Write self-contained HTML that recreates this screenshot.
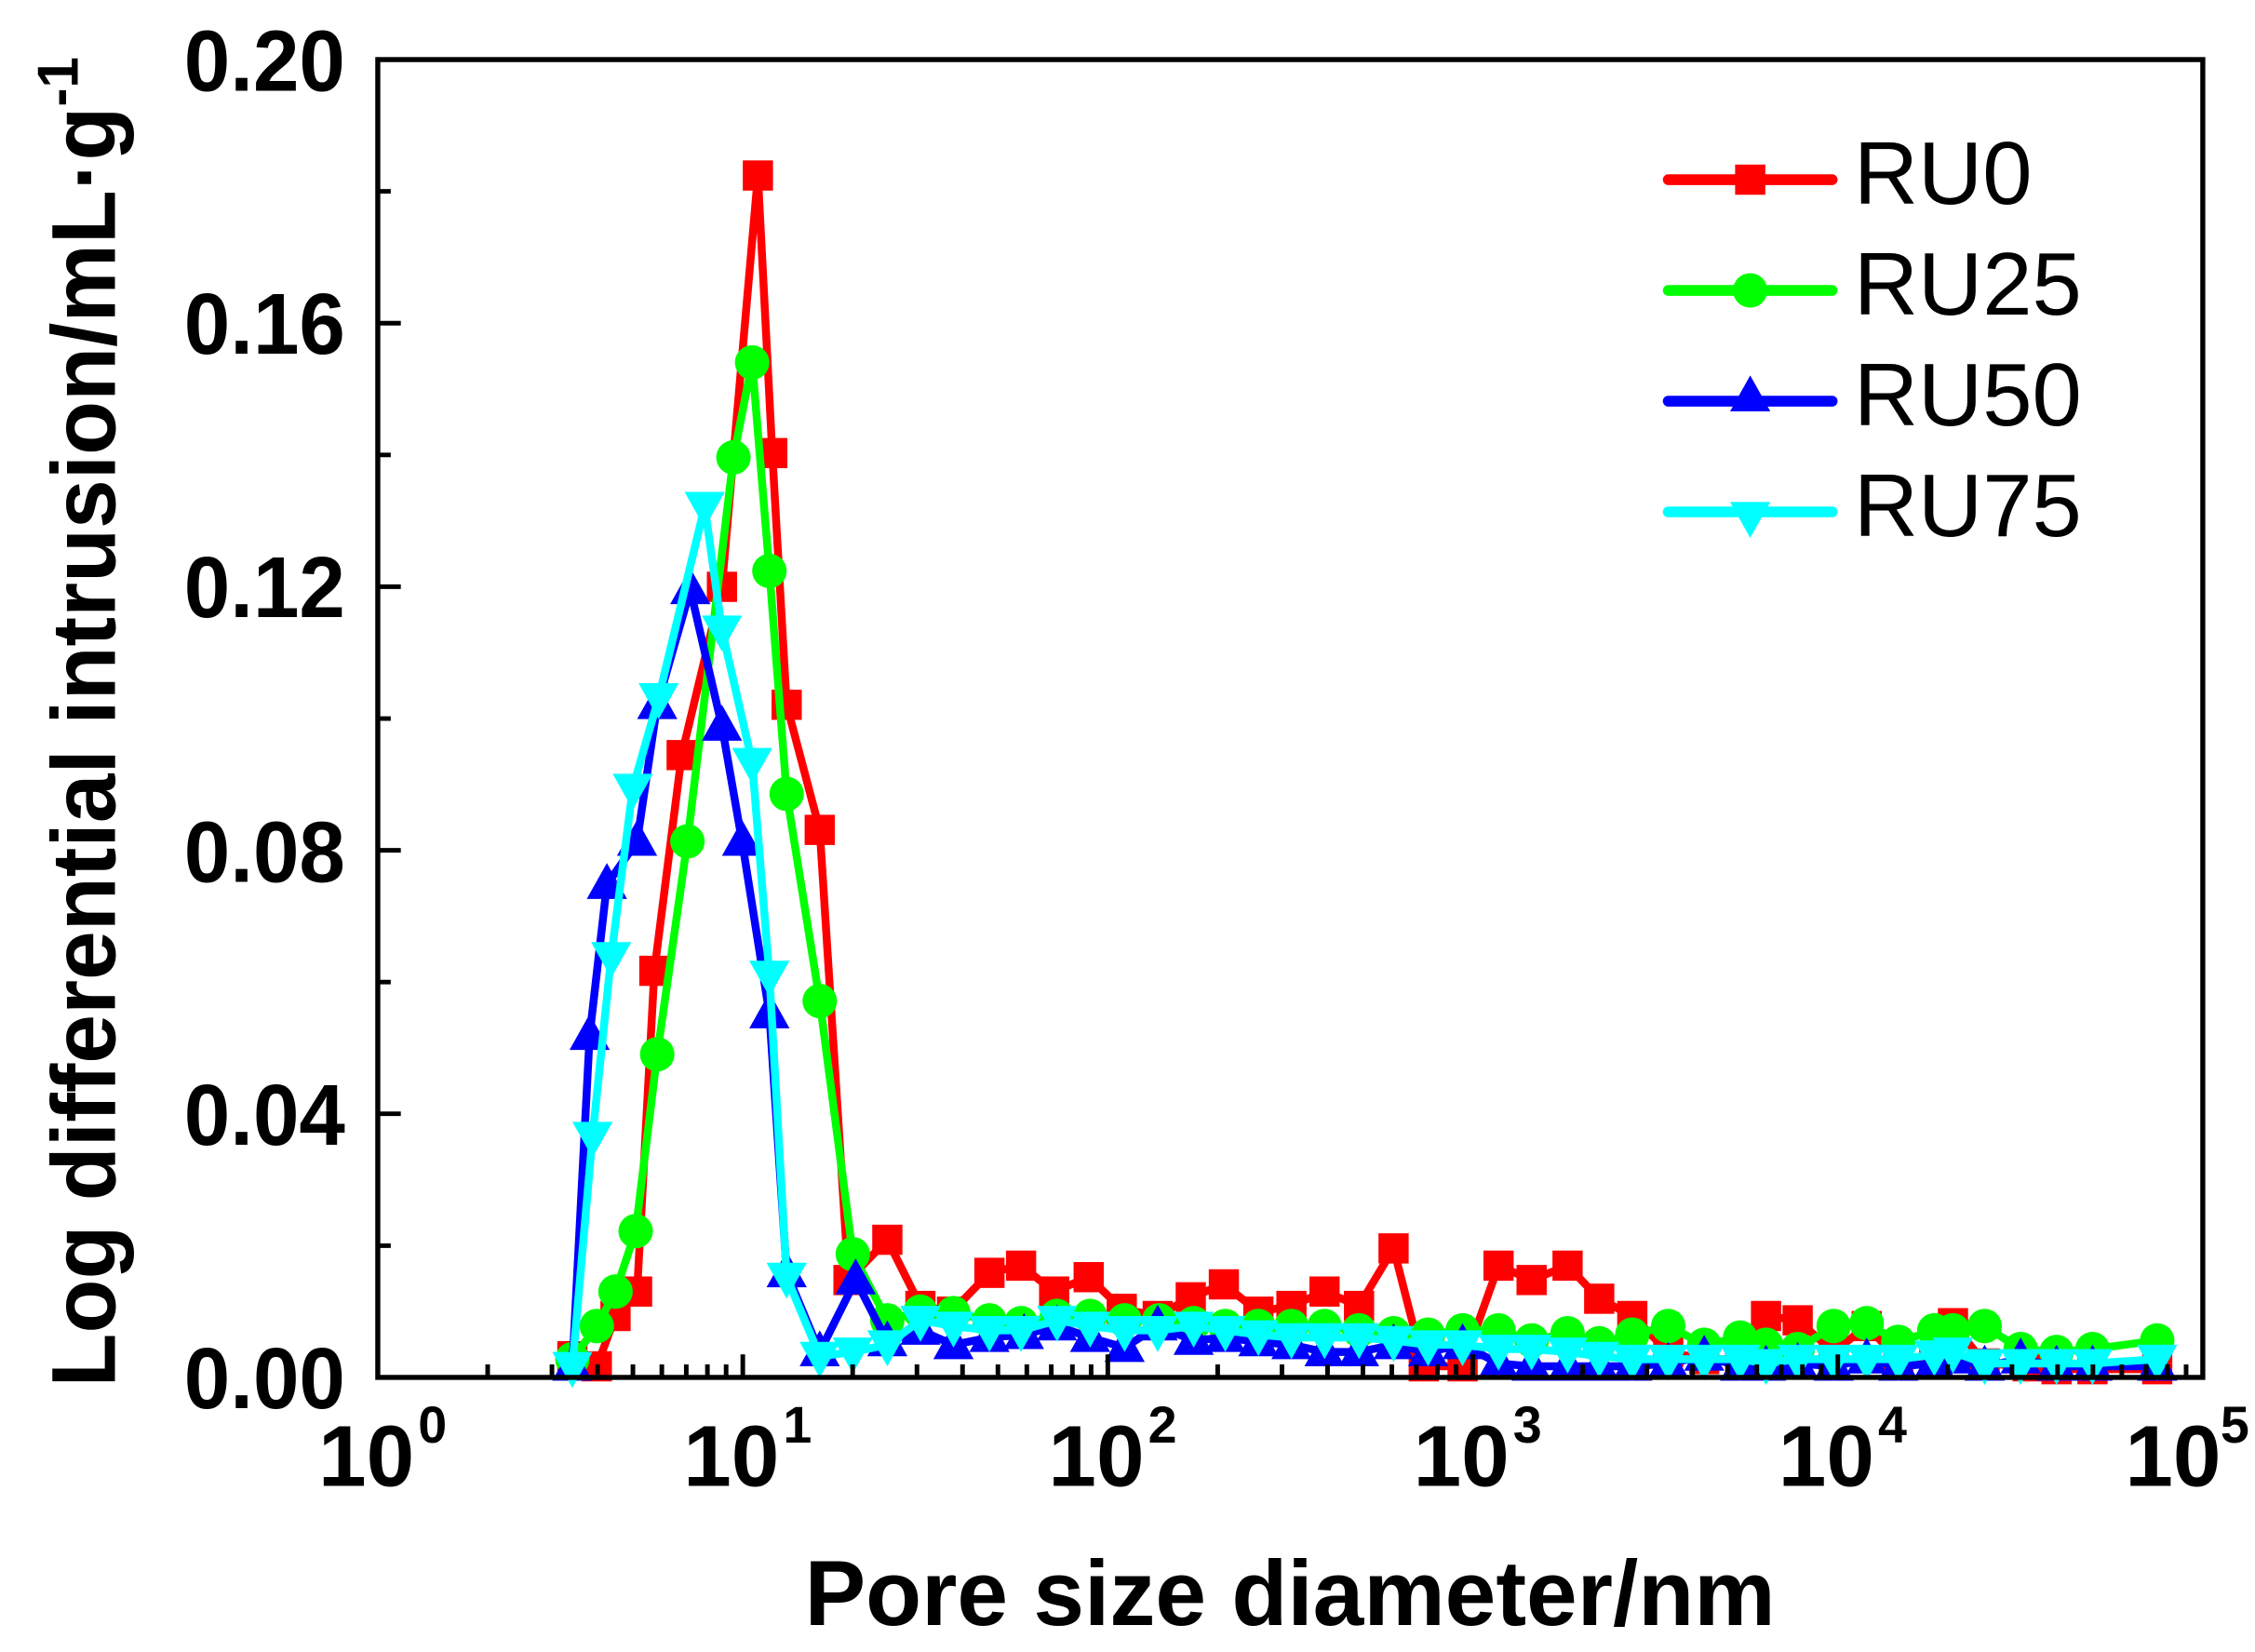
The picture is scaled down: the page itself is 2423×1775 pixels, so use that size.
<!DOCTYPE html>
<html><head><meta charset="utf-8"><style>html,body{margin:0;padding:0;background:#fff}svg{display:block}</style></head>
<body>
<svg width="2423" height="1775" viewBox="0 0 1568 1148.6" xmlns="http://www.w3.org/2000/svg" font-family="Liberation Sans, Arial, sans-serif">
<defs>
<marker id="msq" markerUnits="userSpaceOnUse" markerWidth="24" markerHeight="24" refX="12" refY="12" overflow="visible"><rect x="1.5" y="1.5" width="21" height="21" fill="#ff0000"/></marker>
<marker id="mci" markerUnits="userSpaceOnUse" markerWidth="26" markerHeight="26" refX="13" refY="13" overflow="visible"><circle cx="13" cy="13" r="12" fill="#00ff00"/></marker>
<marker id="mtu" markerUnits="userSpaceOnUse" markerWidth="30" markerHeight="30" refX="15" refY="15" overflow="visible"><polygon points="15,0 29,25 1,25" fill="#0000ff"/></marker>
<marker id="mtd" markerUnits="userSpaceOnUse" markerWidth="30" markerHeight="30" refX="15" refY="15" overflow="visible"><polygon points="15,30 29,5 1,5" fill="#00ffff"/></marker>
<g id="dec" stroke="#000" stroke-width="3.2">
<line x1="0" y1="957.7" x2="0" y2="941.7"/>
<path d="M76.4 957.7v-9M121.1 957.7v-9M152.8 957.7v-9M177.4 957.7v-9M197.5 957.7v-9M214.5 957.7v-9M229.2 957.7v-9M242.2 957.7v-9"/>
</g>
</defs>
<g stroke-linejoin="round" stroke-linecap="round" fill="none" stroke-width="5.5">
<polyline stroke="#ff0000" marker-start="url(#msq)" marker-mid="url(#msq)" marker-end="url(#msq)" points="398,943 415,950 428,915 443,898 455,675 474,525 502,408 527,122 537,315 547,490 570,577 590,890 617,862 640,908 662,912 688,885 710,880 733,898 757,888 780,910 805,915 828,902 851,893 875,912 898,908 921,898 945,908 969,868 990,950 1017,950 1042,880 1065,890 1090,880 1112,903 1135,915 1160,940 1185,945 1210,945 1228,915 1250,918 1275,940 1298,922 1320,945 1345,945 1358,920 1380,948 1410,950 1430,952 1455,952 1500,952"/>
<polyline stroke="#00ff00" marker-start="url(#mci)" marker-mid="url(#mci)" marker-end="url(#mci)" points="398,945 415,922 428,898 442,856 457,733 478,585 510,318 523,252 535,397 547,552 570,696 593,872 617,918 640,912 663,913 688,918 710,920 735,915 758,915 782,918 806,918 830,920 852,922 875,922 898,922 921,922 945,925 969,927 993,928 1017,925 1042,925 1065,932 1090,927 1112,934 1135,928 1160,922 1185,935 1210,930 1228,935 1250,938 1275,922 1298,920 1320,933 1345,925 1358,925 1380,922 1405,938 1430,940 1455,938 1500,932"/>
<polyline stroke="#0000ff" marker-start="url(#mtu)" marker-mid="url(#mtu)" marker-end="url(#mtu)" points="398,950 410,720 422,615 443,585 457,490 480,410 502,505 516,585 535,705 547,885 570,940 595,890 617,933 640,925 663,935 688,930 712,928 735,922 758,930 782,937 805,922 830,932 852,930 875,933 898,935 921,940 945,940 969,935 993,940 1017,935 1042,948 1065,950 1090,950 1112,950 1135,950 1160,948 1185,943 1210,950 1228,950 1250,948 1275,950 1298,945 1320,950 1345,948 1358,945 1380,950 1405,945 1430,950 1455,950 1500,950"/>
<polyline stroke="#00ffff" marker-start="url(#mtd)" marker-mid="url(#mtd)" marker-end="url(#mtd)" points="398,950 412,790 425,665 440,548 458,485 490,352 502,438 523,530 535,678 547,888 570,943 593,940 617,935 640,918 663,922 688,925 710,925 735,918 758,922 782,925 805,925 830,922 852,925 875,928 898,930 921,930 945,930 969,932 993,935 1017,935 1042,938 1065,938 1090,940 1112,943 1135,945 1160,945 1185,945 1210,945 1228,948 1250,945 1275,945 1298,945 1320,945 1345,942 1358,940 1380,948 1405,948 1430,948 1455,948 1500,945"/>
</g>
<rect x="262.7" y="41.4" width="1269" height="916.3" fill="none" stroke="#000" stroke-width="3.5"/>
<use href="#dec" x="262.7"/><use href="#dec" x="516.5"/><use href="#dec" x="770.3"/><use href="#dec" x="1024.1"/><use href="#dec" x="1277.9"/>
<path stroke="#000" stroke-width="3.2" d="M262.7 866.1h9M262.7 682.8h9M262.7 499.6h9M262.7 316.3h9M262.7 133h9M262.7 774.4h16M262.7 591.2h16M262.7 407.9h16M262.7 224.7h16"/>
<g font-weight="bold" font-size="60" text-anchor="end" fill="#000">
<text x="240" y="63" textLength="112" lengthAdjust="spacingAndGlyphs">0.20</text>
<text x="240" y="246" textLength="112" lengthAdjust="spacingAndGlyphs">0.16</text>
<text x="240" y="429" textLength="112" lengthAdjust="spacingAndGlyphs">0.12</text>
<text x="240" y="613" textLength="112" lengthAdjust="spacingAndGlyphs">0.08</text>
<text x="240" y="796" textLength="112" lengthAdjust="spacingAndGlyphs">0.04</text>
<text x="240" y="979" textLength="112" lengthAdjust="spacingAndGlyphs">0.00</text>
</g>
<g font-weight="bold" fill="#000" font-size="60" text-anchor="middle">
<text x="254.7" y="1033">10</text><text x="508.5" y="1033">10</text><text x="762.3" y="1033">10</text><text x="1016.1" y="1033">10</text><text x="1269.9" y="1033">10</text><text x="1511" y="1033">10</text>
</g>
<g font-weight="bold" fill="#000" font-size="36">
<text x="290.7" y="1003">0</text><text x="544.5" y="1003">1</text><text x="798.3" y="1003">2</text><text x="1052.1" y="1003">3</text><text x="1305.9" y="1003">4</text><text x="1544" y="1003">5</text>
</g>
<text x="897" y="1130" font-weight="bold" font-size="64" text-anchor="middle" textLength="675" lengthAdjust="spacingAndGlyphs">Pore size diameter/nm</text>
<text transform="translate(80,502) rotate(-90)" font-weight="bold" font-size="63" text-anchor="middle" textLength="925" lengthAdjust="spacingAndGlyphs">Log differential intrusion/mL·g<tspan font-size="40" dy="-26">-1</tspan></text>
<g font-size="62" fill="#000">
<text x="1289" y="141.7">RU0</text>
<text x="1289" y="218.7">RU25</text>
<text x="1289" y="295.7">RU50</text>
<text x="1289" y="372.7">RU75</text>
</g>
<g stroke-width="7.5" stroke-linecap="round">
<line x1="1160" y1="124.9" x2="1274" y2="124.9" stroke="#ff0000"/><rect x="1206.5" y="114.4" width="21" height="21" fill="#ff0000"/>
<line x1="1160" y1="201.9" x2="1274" y2="201.9" stroke="#00ff00"/><circle cx="1217" cy="201.9" r="12" fill="#00ff00"/>
<line x1="1160" y1="278.9" x2="1274" y2="278.9" stroke="#0000ff"/><polygon points="1217,261 1231,286 1203,286" fill="#0000ff"/>
<line x1="1160" y1="355.9" x2="1274" y2="355.9" stroke="#00ffff"/><polygon points="1217,374 1231,349 1203,349" fill="#00ffff"/>
</g>
</svg>
</body></html>
